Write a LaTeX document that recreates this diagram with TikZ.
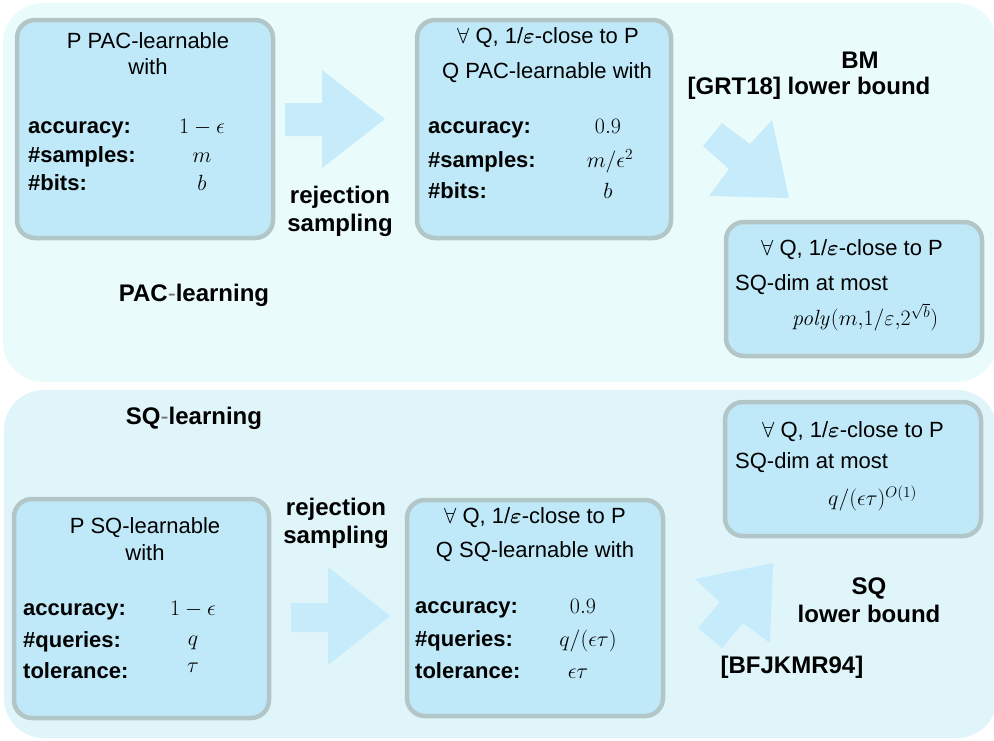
\RequirePackage{fix-cm}
\documentclass[tikz,border=0pt]{standalone}
\usepackage{amsmath}
\usepackage[no-math]{fontspec}
\setmainfont{Liberation Sans}
\usetikzlibrary{positioning}

\definecolor{pacpanel}{HTML}{EAFBFB}
\definecolor{sqpanel}{HTML}{DFF5F9}
\definecolor{boxfill}{HTML}{BFE9F8}
\definecolor{boxline}{HTML}{B3C6C7}
\definecolor{arrowfill}{HTML}{C6ECFB}
\definecolor{hyph}{HTML}{707070}

\tikzset{
  panel/.style={fill=#1, draw=none, rounded corners=40pt},
  box/.style={draw=boxline, line width=4.5pt, fill=boxfill, rounded corners=18pt, inner sep=0pt},
  txt/.style={font=\fontsize{22}{25}\selectfont, inner sep=0pt, anchor=mid, yshift=-3pt},
  key/.style={font=\fontsize{22}{25}\selectfont\bfseries, inner sep=0pt, anchor=mid west, yshift=-3pt},
  tag/.style={font=\fontsize{24}{28}\selectfont\bfseries, inner sep=0pt, align=center},
  blockarrow/.style={fill=arrowfill, draw=none},
}

\newcommand{\closeQ}{$\forall$ Q, 1/$\boldsymbol{\varepsilon}$-close to P}

\begin{document}
\begin{tikzpicture}[x=1pt, y=-1pt]
    \useasboundingbox (0,0) rectangle (994,740);
    \fill[white] (0,0) rectangle (994,740);

    % two learning settings
    \fill[panel=pacpanel] (3,3) rectangle (997,382);
    \fill[panel=sqpanel] (4,390) rectangle (997,738);

    % boxes
    \node[box, minimum width=256pt, minimum height=218pt] (pac) at (145,129) {};
    \node[box, minimum width=254pt, minimum height=218pt] (qpac) at (544,129) {};
    \node[box, minimum width=256pt, minimum height=134pt] (bmdim) at (854,289) {};
    \node[box, minimum width=255pt, minimum height=219pt] (sq) at (141.5,608.5) {};
    \node[box, minimum width=256pt, minimum height=216pt] (qsq) at (535,608) {};
    \node[box, minimum width=256pt, minimum height=134pt] (sqdim) at (853,469) {};

    % P PAC-learnable
    \node[txt] (pac1) at (148,43) {P PAC-learnable};
    \node[txt] (pac2) at (148,69) {with};
    \node[key] (pacacc) at (28,128) {accuracy:};
    \node[key] (pacsmp) at (28,157) {\#samples:};
    \node[key] (pacbit) at (28,185) {\#bits:};
    \node[txt] (pacaccv) at (202,128) {$1-\epsilon$};
    \node[txt] (pacsmpv) at (202,157) {$m$};
    \node[txt] (pacbitv) at (202,185) {$b$};

    % Q PAC-learnable
    \node[txt] (qpac1) at (548,38) {\closeQ};
    \node[txt] (qpac2) at (547,73) {Q PAC-learnable with};
    \node[key] (qpacacc) at (428,128) {accuracy:};
    \node[key] (qpacsmp) at (428,162) {\#samples:};
    \node[key] (qpacbit) at (428,193) {\#bits:};
    \node[txt] (qpacaccv) at (608,128) {$0.9$};
    \node[txt] (qpacsmpv) at (610,162) {$m/\epsilon^{2}$};
    \node[txt] (qpacbitv) at (608,193) {$b$};

    % SQ-dim, BM
    \node[txt] (bm1) at (852,250) {\closeQ};
    \node[txt, anchor=mid west] (bm2) at (735,285) {SQ-dim at most};
    \node[txt, anchor=mid west] (bm3) at (792,320) {$\mathit{poly}(m{,}1/\varepsilon{,}2^{\sqrt{b}})$};

    % P SQ-learnable
    \node[txt] (sq1) at (145,528) {P SQ-learnable};
    \node[txt] (sq2) at (145,555) {with};
    \node[key] (sqacc) at (23,610) {accuracy:};
    \node[key] (sqqry) at (23,642) {\#queries:};
    \node[key] (sqtol) at (23,673) {tolerance:};
    \node[txt] (sqaccv) at (193,610) {$1-\epsilon$};
    \node[txt] (sqqryv) at (193,640) {$q$};
    \node[txt] (sqtolv) at (193,667) {$\tau$};

    % Q SQ-learnable
    \node[txt] (qsq1) at (535,518) {\closeQ};
    \node[txt] (qsq2) at (535,552) {Q SQ-learnable with};
    \node[key] (qsqacc) at (415,608) {accuracy:};
    \node[key] (qsqqry) at (415,641) {\#queries:};
    \node[key] (qsqtol) at (415,673) {tolerance:};
    \node[txt] (qsqaccv) at (583,608) {$0.9$};
    \node[txt] (qsqqryv) at (588,641) {$q/(\epsilon\tau)$};
    \node[txt] (qsqtolv) at (578,673) {$\epsilon\tau$};

    % SQ-dim, SQ
    \node[txt] (sqd1) at (853,432) {\closeQ};
    \node[txt, anchor=mid west] (sqd2) at (735,463) {SQ-dim at most};
    \node[txt, anchor=mid west] (sqd3) at (828,500) {$q/(\epsilon\tau)^{O(1)}$};

    % labels
    \node[tag] (rej1) at (340,211) {rejection\\sampling};
    \node[tag] (rej2) at (336,523) {rejection\\sampling};
    \node[tag] (bm) at (860,60) {BM};
    \node[tag] (grt) at (809,88) {[GRT18] lower bound};
    \node[tag] (paclrn) at (194,295) {PAC{\mdseries\color{hyph}-}learning};
    \node[tag] (sqlrn) at (194,418) {SQ{\mdseries\color{hyph}-}learning};
    \node[tag] (sqlb) at (869,600) {SQ\\lower bound};
    \node[tag] (bfj) at (792,667) {[BFJKMR94]};

    % block arrows
    \fill[blockarrow] (285,103) -- (322,103) -- (322,70) -- (385,119)
        -- (322,168) -- (322,136) -- (285,136) -- cycle;
    \fill[blockarrow] (291,603) -- (328,603) -- (328,567) -- (390,616)
        -- (328,665) -- (328,632) -- (291,632) -- cycle;
    \fill[blockarrow] (703,146) -- (722,123) -- (750,144) -- (772,120)
        -- (789,198) -- (709,196) -- (729,169) -- cycle;
    \fill[blockarrow] (773,563) -- (695,579) -- (720,602) -- (698,628)
        -- (722,648) -- (743,623) -- (770,643) -- cycle;
\end{tikzpicture}
\end{document}
